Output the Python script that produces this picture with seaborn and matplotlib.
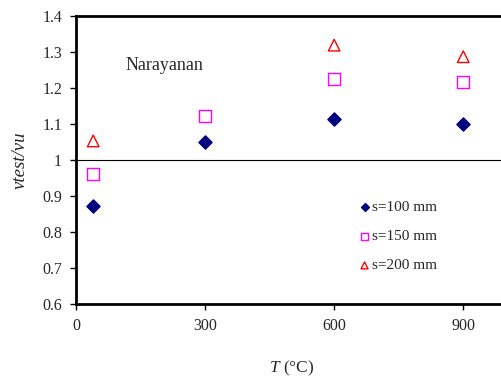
import matplotlib
matplotlib.use("Agg")
import matplotlib.pyplot as plt
import seaborn as sns
import pandas as pd

sns.set_theme(style="white")
plt.rcParams['font.family'] = ['Liberation Serif', 'DejaVu Serif']
plt.rcParams['mathtext.fontset'] = 'custom'
plt.rcParams['mathtext.it'] = 'Liberation Serif:italic'
plt.rcParams['mathtext.rm'] = 'Liberation Serif'

temps_100 = [40, 300, 600, 900]
vals_100 = [0.872, 1.05, 1.114, 1.100]
temps_150 = [40, 300, 600, 900]
vals_150 = [0.961, 1.122, 1.225, 1.217]
temps_200 = [40, 600, 900]
vals_200 = [1.053, 1.319, 1.287]
labels = ["s=100 mm", "s=150 mm", "s=200 mm"]
xticks = [0, 300, 600, 900]
yticks = [0.6, 0.7, 0.8, 0.9, 1.0, 1.1, 1.2, 1.3, 1.4]
ytick_labels = ["0.6", "0.7", "0.8", "0.9", "1", "1.1", "1.2", "1.3", "1.4"]

df = pd.DataFrame({
    "T": temps_100 + temps_150 + temps_200,
    "v": vals_100 + vals_150 + vals_200,
    "s": [labels[0]] * len(temps_100) + [labels[1]] * len(temps_150) + [labels[2]] * len(temps_200),
})

fig = plt.figure(figsize=(5.01, 3.81), dpi=100)
ax = fig.add_axes([76/501, 1 - 304/381, 432/501, 288/381])

styles = {
    labels[0]: dict(marker="D", color="#000080", facecolor="#000080", s=45),
    labels[1]: dict(marker="s", color="#FF00FF", facecolor="none", s=80),
    labels[2]: dict(marker="^", color="#FF0000", facecolor="none", s=70),
}
for lab in labels:
    st = styles[lab]
    sub = df[df["s"] == lab]
    sns.scatterplot(data=sub, x="T", y="v", ax=ax, marker=st["marker"], s=st["s"],
                    facecolor=st["facecolor"], edgecolor=st["color"], linewidth=1.0,
                    label=lab, zorder=3)

ax.axhline(1.0, color="black", lw=0.8, zorder=2)
ax.set_xlim(0, 1004)
ax.set_ylim(0.6, 1.4)
ax.set_xticks(xticks)
ax.set_xticklabels([str(t) for t in xticks], fontsize=11.5)
ax.set_yticks(yticks)
ax.set_yticklabels(ytick_labels, fontsize=11.5)
ax.tick_params(axis="both", direction="out", length=4, width=1, color="black", pad=6, left=True, bottom=True)
for sp in ["left", "bottom", "top"]:
    ax.spines[sp].set_visible(True)
    ax.spines[sp].set_color("black")
    ax.spines[sp].set_linewidth(2)
ax.spines["right"].set_visible(False)

ax.set_xlabel(r"$T$ (°C)", fontsize=12.5, labelpad=18)
ax.set_ylabel("vtest/vu", fontsize=13.5, style="italic", labelpad=10)
ax.text(115, 1.262, "Narayanan", fontsize=13, va="center", ha="left")

leg = ax.legend(loc="upper left", bbox_to_anchor=(0.622, 0.385), frameon=False, fontsize=11,
                handletextpad=-0.3, handlelength=1.6, labelspacing=1.0, markerscale=0.6, borderpad=0)
fig.savefig("out.png", dpi=100)
